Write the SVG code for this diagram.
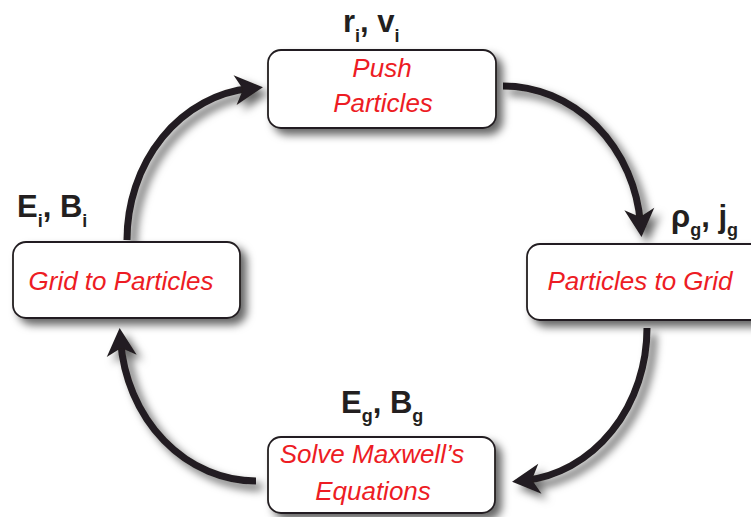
<svg xmlns="http://www.w3.org/2000/svg" width="751" height="517" viewBox="0 0 751 517">
<style>
.box{fill:#fff;stroke:#231f20;stroke-width:1.8}
.lbl{font-family:"Liberation Sans",Arial,sans-serif;font-weight:bold;font-size:31px;fill:#231f20}
.sub{font-size:18px}
.txt{font-family:"Liberation Sans",Arial,sans-serif;font-style:italic;font-size:26px;fill:#ed1c24;text-anchor:middle}
.arc{fill:none;stroke:#231f20;stroke-width:7;marker-end:url(#head)}
</style>
<defs>
<filter id="sh" x="-20%" y="-20%" width="150%" height="150%">
<feDropShadow dx="6" dy="6" stdDeviation="4" flood-color="#000" flood-opacity="0.6"/>
</filter>
<marker id="head" markerUnits="userSpaceOnUse" viewBox="-20 -20 40 40" markerWidth="40" markerHeight="40" refX="0" refY="0" orient="auto" overflow="visible">
<path d="M13,0 L-15,-15 L-7,0 L-15,15 Z" fill="#231f20"/>
</marker>
</defs>
<g id="connectors" filter="url(#sh)">
<path class="arc" d="M127,240 A135,152 0 0 1 250,88.6"/>
<path class="arc" d="M503,86 A138,151 0 0 1 640.5,224"/>
<path class="arc" d="M647,328 A135,153 0 0 1 525,480.4"/>
<path class="arc" d="M256,481 A136,153 0 0 1 120.6,341"/>
</g>
<g id="push">
<rect class="box" x="268" y="50" width="228" height="78" rx="13" filter="url(#sh)"/>
<text class="txt" x="382" y="77">Push</text>
<text class="txt" x="383" y="112">Particles</text>
</g>
<g id="p2g">
<rect class="box" x="527" y="244" width="240" height="76" rx="13" filter="url(#sh)"/>
<text class="txt" x="640" y="290">Particles to Grid</text>
</g>
<g id="maxwell">
<rect class="box" x="268" y="437" width="227" height="76" rx="13" filter="url(#sh)"/>
<text class="txt" x="372" y="463">Solve Maxwell’s</text>
<text class="txt" x="373" y="500">Equations</text>
</g>
<g id="g2p">
<rect class="box" x="13" y="242" width="227" height="76" rx="13" filter="url(#sh)"/>
<text class="txt" x="121" y="290">Grid to Particles</text>
</g>
<g id="labels">
<text class="lbl" x="343" y="32">r<tspan class="sub" dy="10">i</tspan><tspan dy="-10">, v</tspan><tspan class="sub" dy="10">i</tspan></text>
<text class="lbl" x="17" y="217">E<tspan class="sub" dy="10">i</tspan><tspan dy="-10">, B</tspan><tspan class="sub" dy="10">i</tspan></text>
<text class="lbl" x="671" y="227">ρ<tspan class="sub" dy="9">g</tspan><tspan dy="-9">, j</tspan><tspan class="sub" dy="9">g</tspan></text>
<text class="lbl" x="341" y="413">E<tspan class="sub" dy="9">g</tspan><tspan dy="-9">, B</tspan><tspan class="sub" dy="9">g</tspan></text>
</g>
</svg>
